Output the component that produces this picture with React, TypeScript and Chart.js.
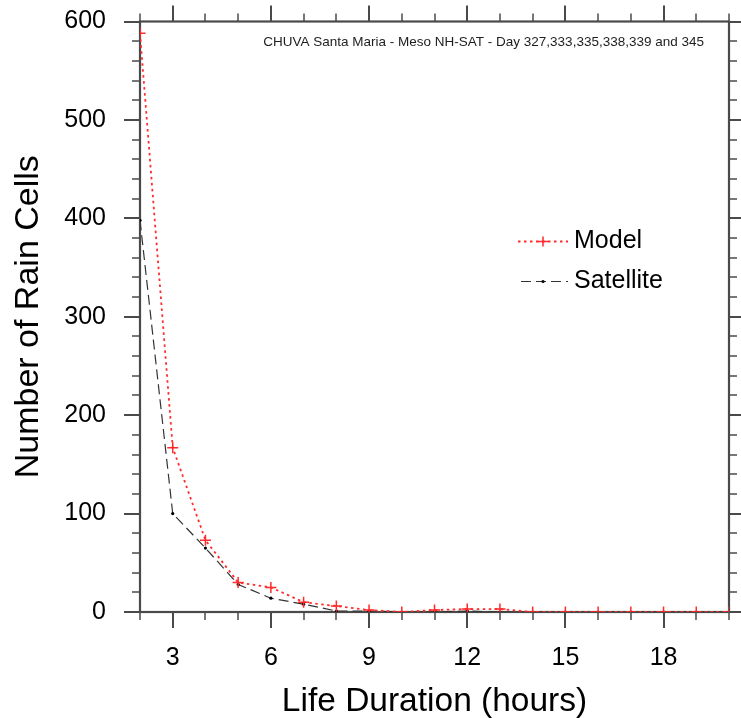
import React, { useEffect, useRef } from "react";
import { Chart, registerables } from "chart.js";

Chart.register(...registerables);

// ---- data ----
const durations = [2, 3, 4, 5, 6, 7, 8, 9, 10, 11, 12, 13, 14, 15, 16, 17, 18, 19, 20];
const modelCounts = [588, 167, 73, 30, 25, 10, 6, 2, 0, 2, 3, 3, 0, 0, 0, 0, 0, 0, 0];
const satelliteCounts = [398, 100, 65, 28, 14, 8, 1, 1, 0, 0, 1, 0, 0, 0, 0, 0, 0, 0, 0];
const xTickValues = [3, 6, 9, 12, 15, 18];
const yTickValues = [0, 100, 200, 300, 400, 500, 600];
const seriesNames = ["Model", "Satellite"];
const plotTitle = "CHUVA Santa Maria - Meso NH-SAT - Day 327,333,335,338,339 and 345";
const xAxisTitle = "Life Duration (hours)";
const yAxisTitle = "Number of Rain Cells";

// ---- styles ----
const X_MIN = 2;
const X_MAX = 20;
const Y_MIN = 0;
const Y_MAX = 600;
const X_MINOR_STEP = 1;
const Y_MINOR_STEP = 20;
const FONT = "'Liberation Sans', Arial, Helvetica, sans-serif";
const AXIS_COLOR = "#4a4a4a";
const MODEL_COLOR = "#ff2a2a";
const SAT_COLOR = "#333333";
const SAT_POINT = "#000000";
const MODEL_DASH = [2.5, 3.5];
const SAT_DASH = [10, 5];
const MAJOR_LEN = 16;
const MINOR_LEN = 8;

const framePlugin = {
  id: "nclFrame",
  beforeDatasetsDraw(chart: any) {
    const { ctx, chartArea: a, scales } = chart;
    const x = scales.x;
    const y = scales.y;
    const seg = (x1: number, y1: number, x2: number, y2: number) => {
      ctx.beginPath();
      ctx.moveTo(x1, y1);
      ctx.lineTo(x2, y2);
      ctx.stroke();
    };
    ctx.save();
    ctx.strokeStyle = AXIS_COLOR;
    ctx.lineCap = "butt";
    // minor ticks
    ctx.lineWidth = 1.5;
    for (let v = X_MIN; v <= X_MAX + 1e-9; v += X_MINOR_STEP) {
      if (xTickValues.includes(v)) continue;
      const px = Math.round(x.getPixelForValue(v));
      seg(px, a.bottom, px, a.bottom + MINOR_LEN);
      seg(px, a.top, px, a.top - MINOR_LEN);
    }
    for (let v = Y_MIN; v <= Y_MAX + 1e-9; v += Y_MINOR_STEP) {
      if (yTickValues.includes(v)) continue;
      const py = Math.round(y.getPixelForValue(v));
      seg(a.left, py, a.left - MINOR_LEN, py);
      seg(a.right, py, a.right + MINOR_LEN, py);
    }
    // major ticks
    ctx.lineWidth = 2;
    for (const v of xTickValues) {
      const px = Math.round(x.getPixelForValue(v));
      seg(px, a.bottom, px, a.bottom + MAJOR_LEN);
      seg(px, a.top, px, a.top - MAJOR_LEN);
    }
    for (const v of yTickValues) {
      const py = Math.round(y.getPixelForValue(v));
      seg(a.left, py, a.left - MAJOR_LEN, py);
      seg(a.right, py, a.right + MAJOR_LEN, py);
    }
    // frame
    ctx.lineWidth = 2.2;
    ctx.strokeRect(a.left, a.top, a.right - a.left, a.bottom - a.top);
    // title text inside plot
    ctx.fillStyle = "#1e1e1e";
    ctx.font = `13.5px ${FONT}`;
    ctx.textAlign = "right";
    ctx.textBaseline = "middle";
    ctx.fillText(plotTitle, a.right - 25, a.top + 20.5);
    ctx.restore();
  },
  afterDatasetsDraw(chart: any) {
    const { ctx, chartArea: a } = chart;
    const x0 = a.left + 378;
    const x1 = a.left + 428;
    const xm = (x0 + x1) / 2;
    const rows = [a.top + 220, a.top + 260];
    ctx.save();
    // Model
    ctx.strokeStyle = MODEL_COLOR;
    ctx.lineWidth = 1.8;
    ctx.setLineDash(MODEL_DASH);
    ctx.beginPath();
    ctx.moveTo(x0, rows[0]);
    ctx.lineTo(x1, rows[0]);
    ctx.stroke();
    ctx.setLineDash([]);
    ctx.lineWidth = 1.5;
    ctx.beginPath();
    ctx.moveTo(xm - 5, rows[0]);
    ctx.lineTo(xm + 5, rows[0]);
    ctx.moveTo(xm, rows[0] - 5);
    ctx.lineTo(xm, rows[0] + 5);
    ctx.stroke();
    // Satellite
    ctx.strokeStyle = SAT_COLOR;
    ctx.lineWidth = 1.2;
    ctx.setLineDash(SAT_DASH);
    ctx.lineDashOffset = -3;
    ctx.beginPath();
    ctx.moveTo(x0, rows[1]);
    ctx.lineTo(x1, rows[1]);
    ctx.stroke();
    ctx.setLineDash([]);
    ctx.fillStyle = SAT_POINT;
    ctx.beginPath();
    ctx.arc(xm, rows[1], 1.6, 0, Math.PI * 2);
    ctx.fill();
    // text
    ctx.fillStyle = "#000";
    ctx.font = `25px ${FONT}`;
    ctx.textAlign = "left";
    ctx.textBaseline = "middle";
    ctx.fillText(seriesNames[0], x1 + 6, rows[0]);
    ctx.fillText(seriesNames[1], x1 + 6, rows[1]);
    ctx.restore();
  },
};

export default function App() {
  const canvasRef = useRef<HTMLCanvasElement | null>(null);

  useEffect(() => {
    document.body.style.margin = "0";
    const canvas = canvasRef.current;
    if (!canvas) return;
    const chart = new Chart(canvas, {
      type: "line",
      data: {
        datasets: [
          {
            label: seriesNames[0],
            data: durations.map((d, i) => ({ x: d, y: modelCounts[i] })),
            borderColor: MODEL_COLOR,
            backgroundColor: MODEL_COLOR,
            borderWidth: 1.8,
            borderDash: MODEL_DASH,
            pointStyle: "cross",
            pointRadius: 5.5,
            pointBorderWidth: 1.5,
            pointBorderColor: MODEL_COLOR,
            tension: 0,
            fill: false,
          },
          {
            label: seriesNames[1],
            data: durations.map((d, i) => ({ x: d, y: satelliteCounts[i] })),
            borderColor: SAT_COLOR,
            backgroundColor: SAT_POINT,
            borderWidth: 1.2,
            borderDash: SAT_DASH,
            pointStyle: "circle",
            pointRadius: 1.6,
            pointBorderWidth: 0,
            tension: 0,
            fill: false,
          },
        ],
      },
      options: {
        animation: false,
        responsive: false,
        maintainAspectRatio: false,
        layout: { padding: { top: 21.5, right: 12, bottom: 0, left: 0 } },
        plugins: {
          legend: { display: false },
          title: { display: false },
          tooltip: { enabled: false },
        },
        scales: {
          x: {
            type: "linear",
            min: X_MIN,
            max: X_MAX,
            grid: { display: false, drawTicks: false },
            border: { display: false },
            afterBuildTicks: (s: any) => {
              s.ticks = xTickValues.map((v) => ({ value: v }));
            },
            afterFit: (s: any) => {
              s.height = 106;
              s.paddingLeft = 0;
              s.paddingRight = 0;
              s.paddingTop = 0;
              s.paddingBottom = 0;
            },
            ticks: {
              color: "#000",
              font: { family: FONT, size: 25 },
              padding: 31,
              maxRotation: 0,
              autoSkip: false,
            },
            title: {
              display: true,
              text: xAxisTitle,
              color: "#000",
              font: { family: FONT, size: 33.5, lineHeight: 1 },
              padding: { top: 0, bottom: -1 },
            },
          },
          y: {
            type: "linear",
            min: Y_MIN,
            max: Y_MAX,
            grid: { display: false, drawTicks: false },
            border: { display: false },
            afterBuildTicks: (s: any) => {
              s.ticks = yTickValues.map((v) => ({ value: v }));
            },
            afterFit: (s: any) => {
              s.width = 140;
              s.paddingLeft = 0;
              s.paddingRight = 0;
              s.paddingTop = 0;
              s.paddingBottom = 0;
            },
            ticks: {
              color: "#000",
              font: { family: FONT, size: 25 },
              padding: 34,
              autoSkip: false,
            },
            title: {
              display: true,
              text: yAxisTitle,
              color: "#000",
              font: { family: FONT, size: 34, lineHeight: 1 },
              padding: { top: 12, bottom: 0 },
            },
          },
        },
      },
      plugins: [framePlugin],
    });
    return () => chart.destroy();
  }, []);

  return (
    <div style={{ width: 741, height: 718, background: "#fff" }}>
      <canvas ref={canvasRef} width={741} height={718} style={{ display: "block" }} />
    </div>
  );
}
